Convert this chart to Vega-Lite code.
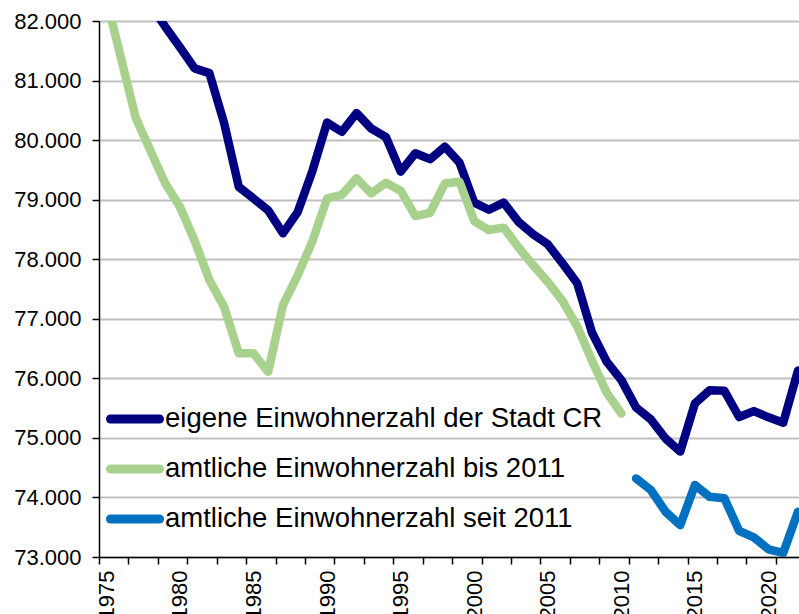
{
  "$schema": "https://vega.github.io/schema/vega-lite/v6.json",
  "width": 700,
  "height": 536,
  "autosize": {"type": "none"},
  "padding": {"left": 99, "top": 21, "right": 0, "bottom": 57},
  "background": "white",
  "config": {"view": {"stroke": null}, "font": "Liberation Sans"},
  "data": {"values": [
    {"year": 1978, "value": 82270, "series": "eigene Einwohnerzahl der Stadt CR"},
    {"year": 1979, "value": 81905, "series": "eigene Einwohnerzahl der Stadt CR"},
    {"year": 1980, "value": 81560, "series": "eigene Einwohnerzahl der Stadt CR"},
    {"year": 1981, "value": 81205, "series": "eigene Einwohnerzahl der Stadt CR"},
    {"year": 1982, "value": 81125, "series": "eigene Einwohnerzahl der Stadt CR"},
    {"year": 1983, "value": 80290, "series": "eigene Einwohnerzahl der Stadt CR"},
    {"year": 1984, "value": 79215, "series": "eigene Einwohnerzahl der Stadt CR"},
    {"year": 1985, "value": 79020, "series": "eigene Einwohnerzahl der Stadt CR"},
    {"year": 1986, "value": 78820, "series": "eigene Einwohnerzahl der Stadt CR"},
    {"year": 1987, "value": 78435, "series": "eigene Einwohnerzahl der Stadt CR"},
    {"year": 1988, "value": 78790, "series": "eigene Einwohnerzahl der Stadt CR"},
    {"year": 1989, "value": 79480, "series": "eigene Einwohnerzahl der Stadt CR"},
    {"year": 1990, "value": 80295, "series": "eigene Einwohnerzahl der Stadt CR"},
    {"year": 1991, "value": 80140, "series": "eigene Einwohnerzahl der Stadt CR"},
    {"year": 1992, "value": 80455, "series": "eigene Einwohnerzahl der Stadt CR"},
    {"year": 1993, "value": 80195, "series": "eigene Einwohnerzahl der Stadt CR"},
    {"year": 1994, "value": 80050, "series": "eigene Einwohnerzahl der Stadt CR"},
    {"year": 1995, "value": 79470, "series": "eigene Einwohnerzahl der Stadt CR"},
    {"year": 1996, "value": 79780, "series": "eigene Einwohnerzahl der Stadt CR"},
    {"year": 1997, "value": 79680, "series": "eigene Einwohnerzahl der Stadt CR"},
    {"year": 1998, "value": 79890, "series": "eigene Einwohnerzahl der Stadt CR"},
    {"year": 1999, "value": 79620, "series": "eigene Einwohnerzahl der Stadt CR"},
    {"year": 2000, "value": 78950, "series": "eigene Einwohnerzahl der Stadt CR"},
    {"year": 2001, "value": 78830, "series": "eigene Einwohnerzahl der Stadt CR"},
    {"year": 2002, "value": 78950, "series": "eigene Einwohnerzahl der Stadt CR"},
    {"year": 2003, "value": 78630, "series": "eigene Einwohnerzahl der Stadt CR"},
    {"year": 2004, "value": 78420, "series": "eigene Einwohnerzahl der Stadt CR"},
    {"year": 2005, "value": 78250, "series": "eigene Einwohnerzahl der Stadt CR"},
    {"year": 2006, "value": 77930, "series": "eigene Einwohnerzahl der Stadt CR"},
    {"year": 2007, "value": 77595, "series": "eigene Einwohnerzahl der Stadt CR"},
    {"year": 2008, "value": 76770, "series": "eigene Einwohnerzahl der Stadt CR"},
    {"year": 2009, "value": 76280, "series": "eigene Einwohnerzahl der Stadt CR"},
    {"year": 2010, "value": 75970, "series": "eigene Einwohnerzahl der Stadt CR"},
    {"year": 2011, "value": 75510, "series": "eigene Einwohnerzahl der Stadt CR"},
    {"year": 2012, "value": 75310, "series": "eigene Einwohnerzahl der Stadt CR"},
    {"year": 2013, "value": 74990, "series": "eigene Einwohnerzahl der Stadt CR"},
    {"year": 2014, "value": 74770, "series": "eigene Einwohnerzahl der Stadt CR"},
    {"year": 2015, "value": 75580, "series": "eigene Einwohnerzahl der Stadt CR"},
    {"year": 2016, "value": 75800, "series": "eigene Einwohnerzahl der Stadt CR"},
    {"year": 2017, "value": 75790, "series": "eigene Einwohnerzahl der Stadt CR"},
    {"year": 2018, "value": 75350, "series": "eigene Einwohnerzahl der Stadt CR"},
    {"year": 2019, "value": 75450, "series": "eigene Einwohnerzahl der Stadt CR"},
    {"year": 2020, "value": 75345, "series": "eigene Einwohnerzahl der Stadt CR"},
    {"year": 2021, "value": 75255, "series": "eigene Einwohnerzahl der Stadt CR"},
    {"year": 2022, "value": 76130, "series": "eigene Einwohnerzahl der Stadt CR"},
    {"year": 1975, "value": 82380, "series": "amtliche Einwohnerzahl bis 2011"},
    {"year": 1976, "value": 81370, "series": "amtliche Einwohnerzahl bis 2011"},
    {"year": 1977, "value": 80370, "series": "amtliche Einwohnerzahl bis 2011"},
    {"year": 1978, "value": 79820, "series": "amtliche Einwohnerzahl bis 2011"},
    {"year": 1979, "value": 79275, "series": "amtliche Einwohnerzahl bis 2011"},
    {"year": 1980, "value": 78880, "series": "amtliche Einwohnerzahl bis 2011"},
    {"year": 1981, "value": 78310, "series": "amtliche Einwohnerzahl bis 2011"},
    {"year": 1982, "value": 77650, "series": "amtliche Einwohnerzahl bis 2011"},
    {"year": 1983, "value": 77200, "series": "amtliche Einwohnerzahl bis 2011"},
    {"year": 1984, "value": 76420, "series": "amtliche Einwohnerzahl bis 2011"},
    {"year": 1985, "value": 76420, "series": "amtliche Einwohnerzahl bis 2011"},
    {"year": 1986, "value": 76110, "series": "amtliche Einwohnerzahl bis 2011"},
    {"year": 1987, "value": 77230, "series": "amtliche Einwohnerzahl bis 2011"},
    {"year": 1988, "value": 77730, "series": "amtliche Einwohnerzahl bis 2011"},
    {"year": 1989, "value": 78300, "series": "amtliche Einwohnerzahl bis 2011"},
    {"year": 1990, "value": 79020, "series": "amtliche Einwohnerzahl bis 2011"},
    {"year": 1991, "value": 79080, "series": "amtliche Einwohnerzahl bis 2011"},
    {"year": 1992, "value": 79360, "series": "amtliche Einwohnerzahl bis 2011"},
    {"year": 1993, "value": 79105, "series": "amtliche Einwohnerzahl bis 2011"},
    {"year": 1994, "value": 79285, "series": "amtliche Einwohnerzahl bis 2011"},
    {"year": 1995, "value": 79150, "series": "amtliche Einwohnerzahl bis 2011"},
    {"year": 1996, "value": 78725, "series": "amtliche Einwohnerzahl bis 2011"},
    {"year": 1997, "value": 78780, "series": "amtliche Einwohnerzahl bis 2011"},
    {"year": 1998, "value": 79270, "series": "amtliche Einwohnerzahl bis 2011"},
    {"year": 1999, "value": 79300, "series": "amtliche Einwohnerzahl bis 2011"},
    {"year": 2000, "value": 78640, "series": "amtliche Einwohnerzahl bis 2011"},
    {"year": 2001, "value": 78490, "series": "amtliche Einwohnerzahl bis 2011"},
    {"year": 2002, "value": 78530, "series": "amtliche Einwohnerzahl bis 2011"},
    {"year": 2003, "value": 78200, "series": "amtliche Einwohnerzahl bis 2011"},
    {"year": 2004, "value": 77900, "series": "amtliche Einwohnerzahl bis 2011"},
    {"year": 2005, "value": 77620, "series": "amtliche Einwohnerzahl bis 2011"},
    {"year": 2006, "value": 77300, "series": "amtliche Einwohnerzahl bis 2011"},
    {"year": 2007, "value": 76870, "series": "amtliche Einwohnerzahl bis 2011"},
    {"year": 2008, "value": 76300, "series": "amtliche Einwohnerzahl bis 2011"},
    {"year": 2009, "value": 75760, "series": "amtliche Einwohnerzahl bis 2011"},
    {"year": 2010, "value": 75410, "series": "amtliche Einwohnerzahl bis 2011"},
    {"year": 2011, "value": 74320, "series": "amtliche Einwohnerzahl seit 2011"},
    {"year": 2012, "value": 74125, "series": "amtliche Einwohnerzahl seit 2011"},
    {"year": 2013, "value": 73760, "series": "amtliche Einwohnerzahl seit 2011"},
    {"year": 2014, "value": 73535, "series": "amtliche Einwohnerzahl seit 2011"},
    {"year": 2015, "value": 74210, "series": "amtliche Einwohnerzahl seit 2011"},
    {"year": 2016, "value": 74010, "series": "amtliche Einwohnerzahl seit 2011"},
    {"year": 2017, "value": 73985, "series": "amtliche Einwohnerzahl seit 2011"},
    {"year": 2018, "value": 73440, "series": "amtliche Einwohnerzahl seit 2011"},
    {"year": 2019, "value": 73330, "series": "amtliche Einwohnerzahl seit 2011"},
    {"year": 2020, "value": 73130, "series": "amtliche Einwohnerzahl seit 2011"},
    {"year": 2021, "value": 73070, "series": "amtliche Einwohnerzahl seit 2011"},
    {"year": 2022, "value": 73760, "series": "amtliche Einwohnerzahl seit 2011"}
  ]},
  "encoding": {
    "y": {
      "field": "value",
      "type": "quantitative",
      "scale": {"domain": [73000, 82000], "nice": false, "zero": false},
      "axis": {
        "values": [73000, 74000, 75000, 76000, 77000, 78000, 79000, 80000, 81000, 82000],
        "title": null,
        "tickSize": 7,
        "tickColor": "black",
        "tickWidth": 1.5,
        "domainColor": "black",
        "domainWidth": 1.5,
        "grid": true,
        "gridColor": "#BFBFBF",
        "gridWidth": 2,
        "labelFontSize": 22,
        "labelFont": "Liberation Sans",
        "labelColor": "black",
        "labelPadding": 11,
        "labelFlush": false,
        "labelExpr": "replace(format(datum.value, ',d'), ',', '.')"
      }
    }
  },
  "layer": [
    {
      "mark": {"type": "line", "strokeWidth": 8.5, "strokeCap": "round", "strokeJoin": "round", "clip": true},
      "encoding": {
        "x": {
          "field": "year",
          "type": "quantitative",
          "scale": {"domain": [1974.5, 2022.07], "nice": false, "zero": false},
          "axis": {
            "orient": "bottom",
            "values": [1975, 1980, 1985, 1990, 1995, 2000, 2005, 2010, 2015, 2020],
            "format": "d",
            "ticks": false,
            "domain": false,
            "grid": false,
            "title": null,
            "labelAngle": 270,
            "labelFontSize": 22,
            "labelFont": "Liberation Sans",
            "labelColor": "black",
            "labelPadding": 13,
            "labelFlush": false,
            "labelOverlap": false
          }
        },
        "color": {
          "field": "series",
          "type": "nominal",
          "scale": {
            "domain": ["eigene Einwohnerzahl der Stadt CR", "amtliche Einwohnerzahl bis 2011", "amtliche Einwohnerzahl seit 2011"],
            "range": ["#000080", "#A9D18E", "#0070C0"]
          },
          "legend": {
            "orient": "none",
            "legendX": 7,
            "legendY": 373,
            "title": null,
            "direction": "vertical",
            "symbolType": "stroke",
            "symbolSize": 2401,
            "symbolStrokeWidth": 9,
            "labelFontSize": 27.5,
            "labelFont": "Liberation Sans",
            "labelColor": "black",
            "labelOffset": 1,
            "labelLimit": 700,
            "rowPadding": 0,
            "clipHeight": 50,
            "padding": 0,
            "encode": {"symbols": {"update": {"strokeCap": {"value": "round"}}}}
          }
        }
      }
    },
    {
      "mark": {"type": "line", "opacity": 0, "clip": true},
      "encoding": {
        "x": {
          "field": "year",
          "type": "quantitative",
          "axis": {
            "orient": "bottom",
            "values": [1974.5, 1976.5, 1978.5, 1980.5, 1982.5, 1984.5, 1986.5, 1988.5, 1990.5, 1992.5, 1994.5, 1996.5, 1998.5, 2000.5, 2002.5, 2004.5, 2006.5, 2008.5, 2010.5, 2012.5, 2014.5, 2016.5, 2018.5, 2020.5],
            "labels": false,
            "ticks": true,
            "tickSize": 7,
            "tickColor": "black",
            "tickWidth": 1.5,
            "domain": true,
            "domainColor": "black",
            "domainWidth": 1.5,
            "grid": false,
            "title": null
          }
        }
      }
    }
  ],
  "resolve": {"axis": {"x": "independent"}}
}
